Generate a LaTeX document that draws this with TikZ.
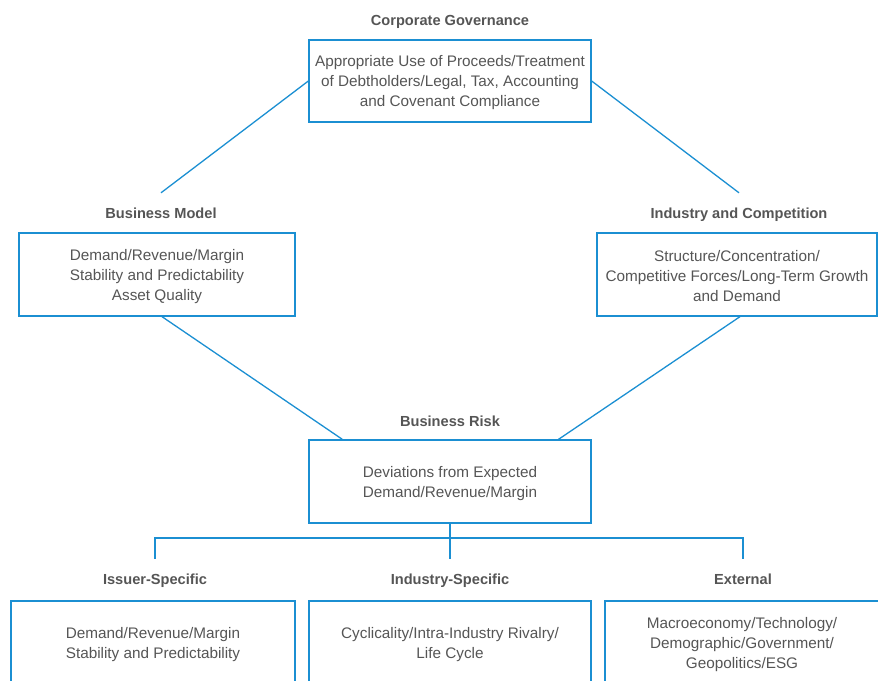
\documentclass[tikz,border=0pt]{standalone}
\usepackage{fontspec}
\setmainfont{Liberation Sans}
\usetikzlibrary{calc}
\definecolor{lineblue}{HTML}{1B8FD2}
\definecolor{txtgray}{HTML}{555555}
\tikzset{
  x=1pt,y=-1pt,
  conn/.style={draw=lineblue,line width=1.3pt},
  boxnode/.style={draw=lineblue,line width=1.3pt,rectangle,align=center,inner sep=0pt,
    text=txtgray,font=\fontsize{15.3}{20}\selectfont},
  boxlabel/.style={inner sep=0pt,align=center,text=txtgray,font=\fontsize{15.3}{20}\selectfont},
  titlenode/.style={rectangle,inner sep=0pt,minimum height=40pt,text=txtgray,
    text height=12.5pt,text depth=1pt,
    font=\fontsize{14.6}{16}\selectfont\bfseries}
}
\begin{document}
\begin{tikzpicture}
\useasboundingbox (0,0) rectangle (878,680);
\clip (0,0) rectangle (878,680);
% titles
\node[titlenode] (cgt) at (450,20) {Corporate Governance};
\node[titlenode] (bmt) at (161,213) {Business Model};
\node[titlenode] (ict) at (739,213) {Industry and Competition};
\node[titlenode] (brt) at (450,421) {Business Risk};
\node[titlenode] (ist) at (155,579) {Issuer-Specific};
\node[titlenode] (indt) at (450,579) {Industry-Specific};
\node[titlenode] (ext) at (743,579) {External};
% boxes
\node[boxnode,minimum width=282pt,minimum height=82pt] (cg) at (450,81) {};
\node[boxlabel] (cgl) at ($(cg.center)+(0,2)$)
  {Appropriate Use of Proceeds/Treatment\\of Debtholders/Legal, Tax, Accounting\\and Covenant Compliance};
\node[boxnode,minimum width=276pt,minimum height=83pt] (bm) at (157,274.5) {};
\node[boxlabel] (bml) at ($(bm.center)+(0,2)$)
  {Demand/Revenue/Margin\\Stability and Predictability\\Asset Quality};
\node[boxnode,minimum width=280pt,minimum height=83pt] (ic) at (737,274.5) {};
\node[boxlabel] (icl) at ($(ic.center)+(0,2)$)
  {Structure/Concentration/\\Competitive Forces/Long-Term Growth\\and Demand};
\node[boxnode,minimum width=282pt,minimum height=83pt] (rb) at (450,481.5) {};
\node[boxlabel] (rbl) at ($(rb.center)+(0,2)$)
  {Deviations from Expected\\Demand/Revenue/Margin};
\node[boxnode,minimum width=284pt,minimum height=84pt] (is) at (153,643) {};
\node[boxlabel] (isl) at ($(is.center)+(0,2)$)
  {Demand/Revenue/Margin\\Stability and Predictability};
\node[boxnode,minimum width=282pt,minimum height=84pt] (ind) at (450,643) {};
\node[boxlabel] (indl) at ($(ind.center)+(0,2)$)
  {Cyclicality/Intra-Industry Rivalry/\\Life Cycle};
\node[boxnode,minimum width=290pt,minimum height=84pt] (ex) at (750,643) {};
\node[boxlabel] (exl) at (742,645)
  {Macroeconomy/Technology/\\Demographic/Government/\\Geopolitics/ESG};
% connectors
\draw[conn] (cg.west) -- (bmt.north);
\draw[conn] (cg.east) -- (ict.north);
\draw[conn] ($(bm.south)+(5,0)$) -- ($(rb.north west)!0.12!(rb.north east)$);
\draw[conn] ($(ic.south)+(3,0)$) -- ($(rb.north west)!0.883!(rb.north east)$);
\coordinate (fork) at (450,538);
\draw[conn] (rb.south) -- (fork);
\draw[conn] (ist.north) |- (fork) -| (ext.north);
\draw[conn] (fork) -- (indt.north);
\end{tikzpicture}
\end{document}
